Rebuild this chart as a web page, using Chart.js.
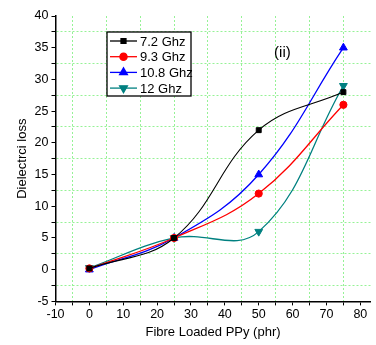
<!DOCTYPE html>
<html><head><meta charset="utf-8">
<script src="https://cdn.jsdelivr.net/npm/chart.js@4"></script>
<style>html,body{margin:0;padding:0;background:#fff;}</style>
</head><body>
<canvas id="c" width="376" height="345"></canvas>
<script>
const xValues = [0, 25, 50, 75];
const seriesLabels = ['7.2 Ghz', '9.3 Ghz', '10.8 Ghz', '12 Ghz'];
const s72 = [0.2, 5, 22, 28];
const s93 = [0.2, 5, 12, 26];
const s108 = [0, 5, 15, 35];
const s12 = [0.3, 5, 6, 29];
const xTickLabels = [-10, 0, 10, 20, 30, 40, 50, 60, 70, 80];
const yTickLabels = [-5, 0, 5, 10, 15, 20, 25, 30, 35, 40];
const panelLabel = '(ii)';

const FONT = "'Liberation Sans', Arial, sans-serif";
const GRID = 'rgb(150,242,150)';

function pts(vals) { return xValues.map((x, i) => ({x: x, y: vals[i]})); }

const styles = [
  {color: '#000000', pointStyle: 'rect', radius: 3.5, rotation: 0, width: 1.1},
  {color: '#ff0000', pointStyle: 'circle', radius: 3.6, rotation: 0, width: 1.3},
  {color: '#0000ff', pointStyle: 'triangle', radius: 4.5, rotation: 0, width: 1.3},
  {color: '#008080', pointStyle: 'triangle', radius: 4.5, rotation: 180, width: 1.3}
];
const allSeries = [s72, s93, s108, s12];

const datasets = allSeries.map((s, i) => ({
  label: seriesLabels[i],
  data: pts(s),
  borderColor: styles[i].color,
  backgroundColor: styles[i].color,
  borderWidth: styles[i].width,
  pointStyle: styles[i].pointStyle,
  pointRotation: styles[i].rotation,
  pointRadius: styles[i].radius,
  pointBorderWidth: 1,
  pointBackgroundColor: styles[i].color,
  pointBorderColor: styles[i].color,
  tension: 0.4,
  fill: false
}));

const overlay = {
  id: 'overlay',
  afterDatasetsDraw(chart) {
    const ctx = chart.ctx;
    const xs = chart.scales.x, ys = chart.scales.y;
    ctx.save();
    ctx.fillStyle = '#000';
    ctx.font = '15px ' + FONT;
    ctx.textAlign = 'center';
    ctx.textBaseline = 'middle';
    ctx.fillText(panelLabel, xs.getPixelForValue(57), ys.getPixelForValue(34.2));
    const bx = 107, by = 32, bw = 84, bh = 64;
    ctx.fillStyle = '#fff';
    ctx.fillRect(bx, by, bw, bh);
    ctx.strokeStyle = '#000';
    ctx.lineWidth = 1.3;
    ctx.strokeRect(bx, by, bw, bh);
    ctx.font = '13px ' + FONT;
    ctx.textAlign = 'left';
    chart.data.datasets.forEach((ds, i) => {
      const y = by + 9 + i * 15.7;
      ctx.strokeStyle = ds.borderColor;
      ctx.lineWidth = 1.3;
      ctx.beginPath();
      ctx.moveTo(bx + 3, y);
      ctx.lineTo(bx + 30, y);
      ctx.stroke();
      ctx.fillStyle = ds.borderColor;
      Chart.helpers.drawPoint(ctx, {pointStyle: ds.pointStyle, radius: ds.pointRadius, rotation: ds.pointRotation, borderWidth: 1}, bx + 16.5, y);
      ctx.fillStyle = '#000';
      ctx.fillText(ds.label, bx + 33, y + 1);
    });
    ctx.restore();
  }
};

new Chart(document.getElementById('c'), {
  type: 'line',
  data: {datasets: datasets},
  plugins: [overlay],
  options: {
    responsive: false,
    animation: false,
    layout: {padding: {top: 16, right: 0, left: 15, bottom: 5}},
    plugins: {legend: {display: false}, tooltip: {enabled: false}},
    scales: {
      x: {
        type: 'linear',
        min: -10, max: 83,
        border: {display: true, color: '#000', width: 1.5, dash: [2, 2]},
        grid: {
          color: c => (c.tick && c.tick.value % 10 !== 0) ? GRID : 'rgba(0,0,0,0)',
          lineWidth: 1,
          drawTicks: true,
          tickLength: 4,
          tickColor: '#000',
          tickWidth: 1
        },
        ticks: {
          stepSize: 5,
          includeBounds: false,
          autoSkip: false,
          maxRotation: 0,
          padding: 2,
          color: '#000',
          font: {family: FONT, size: 12.5},
          callback: v => xTickLabels.includes(v) ? String(v) : ''
        },
        title: {display: true, text: 'Fibre Loaded PPy (phr)', color: '#000', font: {family: FONT, size: 13}, padding: {top: 0, bottom: 0}}
      },
      y: {
        min: -5, max: 40,
        border: {display: true, color: '#000', width: 1.5, dash: [2, 2]},
        grid: {
          color: c => (c.tick && c.tick.value % 5 !== 0) ? GRID : 'rgba(0,0,0,0)',
          lineWidth: 1,
          drawTicks: true,
          tickLength: 4,
          tickColor: '#000',
          tickWidth: 1
        },
        ticks: {
          stepSize: 2.5,
          autoSkip: false,
          padding: 3,
          color: '#000',
          font: {family: FONT, size: 12.5},
          callback: v => yTickLabels.includes(v) ? String(v) : ''
        },
        title: {display: true, text: 'Dielectrci loss', color: '#000', font: {family: FONT, size: 13}, padding: {top: 0, bottom: 1}}
      }
    }
  }
});
</script>
</body></html>
